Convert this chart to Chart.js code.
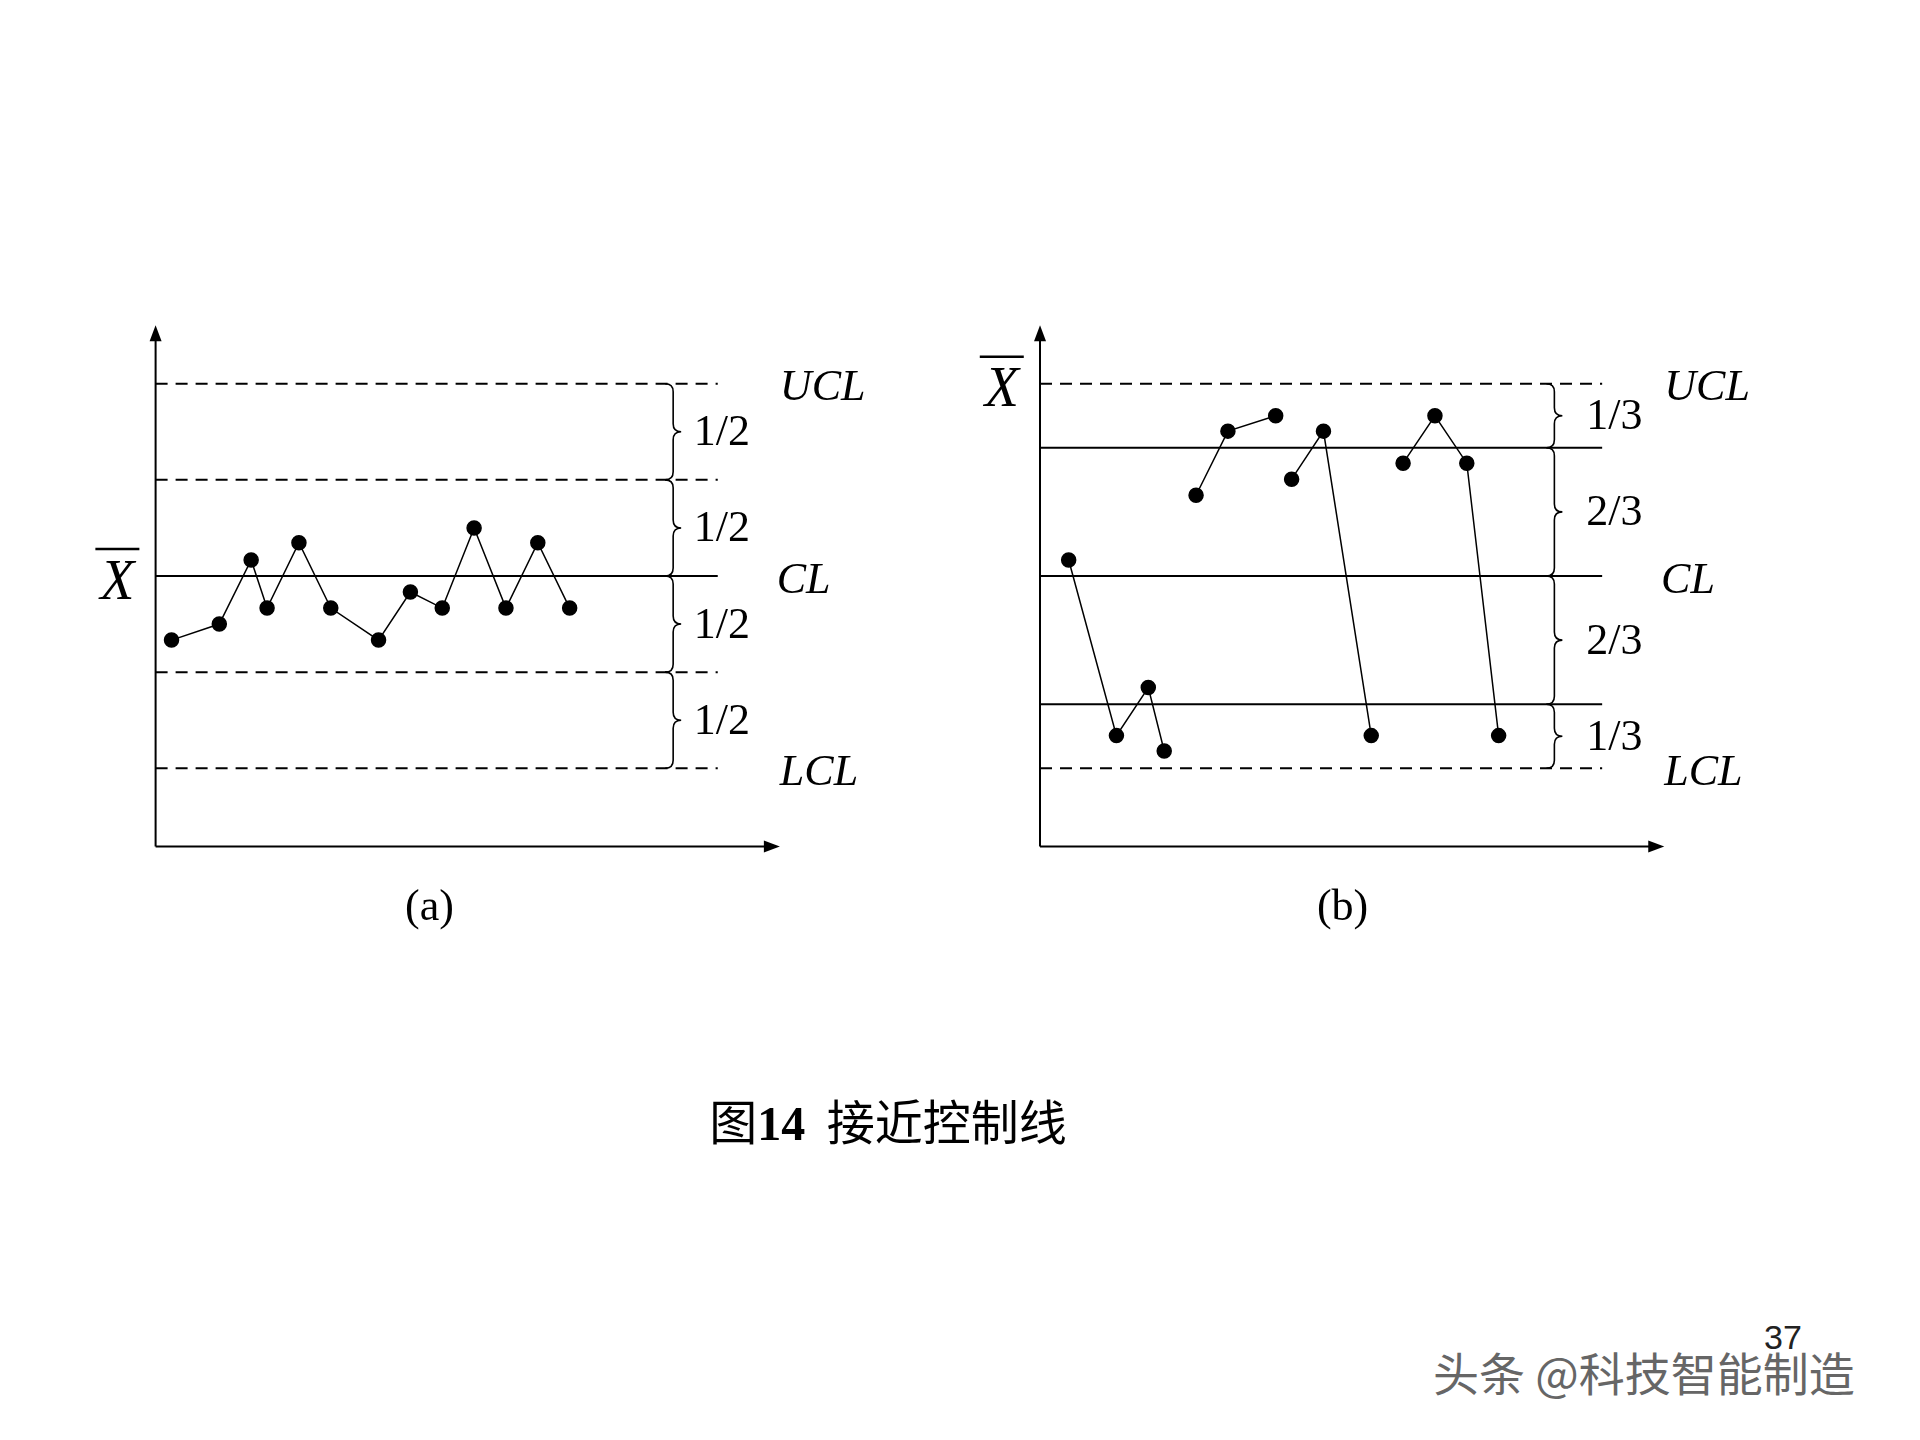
<!DOCTYPE html>
<html><head><meta charset="utf-8">
<script src="https://cdn.jsdelivr.net/npm/chart.js@4"></script>
<style>
body{margin:0;background:#fff;width:1920px;height:1440px;position:relative;overflow:hidden}
canvas{position:absolute;top:0}
#title{position:absolute;left:0;width:1776px;top:1084px;text-align:center;font:48px "Noto Sans CJK SC";color:#000}
#title b{font-family:"Liberation Serif";font-size:48px}
#wm{position:absolute;left:1433px;top:1338px;font:46px "Noto Sans CJK SC";color:#666;text-shadow:1px 1px 0 #fff,-1px -1px 0 #fff}
#pg{position:absolute;left:1764px;top:1318px;font:34px "Liberation Sans";color:#222}
</style></head><body>
<div style="position:absolute;left:0;top:0;width:960px;height:1100px"><canvas id="ca"></canvas></div>
<div style="position:absolute;left:960px;top:0;width:960px;height:1100px"><canvas id="cb"></canvas></div>
<div id="title">图<b>14</b>&nbsp; 接近控制线</div>
<div id="pg">37</div>
<div id="wm">头条 @科技智能制造</div>
<script>
// Chart (a)
const xA = [1,4,6,7,9,11,14,16,18,20,22,24,26];
const yA = [-1.0,-0.75,0.25,-0.5,0.52,-0.5,-1.0,-0.25,-0.5,0.75,-0.5,0.52,-0.5];
const levelsA = [3,1.5,0,-1.5,-3];
const dashA = [true,true,false,true,true];
const fracA = ['1/2','1/2','1/2','1/2'];
const captionA = '(a)';
// Chart (b)
const xB = [1.8,4.8,6.8,7.8,9.8,11.8,14.8,15.8,17.8,20.8,22.8,24.8,26.8,28.8];
const yB = [0.25,-2.49,-1.74,-2.73,1.26,2.26,2.5,1.51,2.26,-2.49,1.76,2.5,1.76,-2.49];
const groupsB = [4,3,3,4]; // consecutive connected points
const levelsB = [3,2,0,-2,-3];
const dashB = [true,false,false,false,true];
const fracB = ['1/3','2/3','2/3','1/3'];
const captionB = '(b)';
const limitLabels = ['UCL','CL','LCL'];
const limitLevels = [3,0,-3];

const TOP=305.5, BOT=846.5, W=637;
function build(id, xs, ys, groups, levels, dash, fracs, caption, padL, bracePos, fracX, yLabelY, capX){
  const pts=[]; let k=0;
  groups.forEach((g,gi)=>{for(let i=0;i<g;i++){pts.push({x:xs[k],y:ys[k]});k++;} if(gi<groups.length-1) pts.push({x:xs[k-1]+0.01,y:null});});
  const ds=levels.map((l,i)=>({data:[{x:0,y:l},{x:35.3,y:l}],borderColor:'#000',borderWidth:2,borderDash:dash[i]?[12,8]:[],pointRadius:0,fill:false}));
  ds.push({data:pts,borderColor:'#000',backgroundColor:'#000',borderWidth:1.5,pointRadius:7,pointHoverRadius:7,spanGaps:false});
  const deco={id:'deco',afterDatasetsDraw(c){
    const g=c.ctx,X=c.scales.x,Y=c.scales.y;
    g.save();g.strokeStyle='#000';g.fillStyle='#000';g.lineWidth=2;
    const x0=X.getPixelForValue(0),y0=Y.getPixelForValue(-4.22);
    const yt=Y.getPixelForValue(3.91),xt=X.getPixelForValue(39.2);
    g.beginPath();g.moveTo(x0,y0);g.lineTo(x0,yt+14);g.moveTo(x0,y0);g.lineTo(xt-14,y0);g.stroke();
    g.beginPath();g.moveTo(x0,yt);g.lineTo(x0-6,yt+16);g.lineTo(x0+6,yt+16);g.fill();
    g.beginPath();g.moveTo(xt,y0);g.lineTo(xt-16,y0-6);g.lineTo(xt-16,y0+6);g.fill();
    const bx=X.getPixelForValue(bracePos);
    g.lineWidth=1.6;
    for(let i=0;i<4;i++){
      const a=Y.getPixelForValue(levels[i]),b=Y.getPixelForValue(levels[i+1]),m=(a+b)/2;
      g.beginPath();g.moveTo(bx-8,a);g.quadraticCurveTo(bx,a,bx,a+8);g.lineTo(bx,m-8);g.quadraticCurveTo(bx,m,bx+8,m);
      g.quadraticCurveTo(bx,m,bx,m+8);g.lineTo(bx,b-8);g.quadraticCurveTo(bx,b,bx-8,b);g.stroke();
      g.font='44px "Liberation Serif"';g.textAlign='left';g.textBaseline='middle';
      g.fillText(fracs[i],X.getPixelForValue(fracX),m+2);
    }
    g.font='italic 44px "Liberation Serif"';
    limitLabels.forEach((t,i)=>g.fillText(t,X.getPixelForValue(t==='CL'?39.0:39.2),Y.getPixelForValue(limitLevels[i])+5));
    const xb=X.getPixelForValue(-2.4),yb=Y.getPixelForValue(yLabelY);
    g.font='italic 56px "Liberation Serif"';g.textAlign='center';g.fillText('X',xb,yb+8);
    g.lineWidth=2.5;g.beginPath();g.moveTo(xb-22,yb-27);g.lineTo(xb+22,yb-27);g.stroke();
    g.font='44px "Liberation Serif"';g.fillText(caption,X.getPixelForValue(capX),y0+62);
    g.restore();}};
  new Chart(document.getElementById(id),{type:'line',data:{datasets:ds},
    options:{responsive:true,maintainAspectRatio:false,animation:false,events:[],
      layout:{padding:{left:padL,right:960-padL-W,top:TOP,bottom:1100-BOT}},
      plugins:{legend:{display:false},tooltip:{enabled:false}},
      scales:{x:{type:'linear',min:0,max:40,display:false},y:{min:-4.22,max:4.22,display:false}},
      elements:{line:{tension:0}},clip:false},plugins:[deco]});
}
build('ca',xA,yA,[xA.length],levelsA,dashA,fracA,captionA,155.6,32.5,33.8,0,17.2);
build('cb',xB,yB,groupsB,levelsB,dashB,fracB,captionB,80,32.3,34.3,3,19);
</script></body></html>
